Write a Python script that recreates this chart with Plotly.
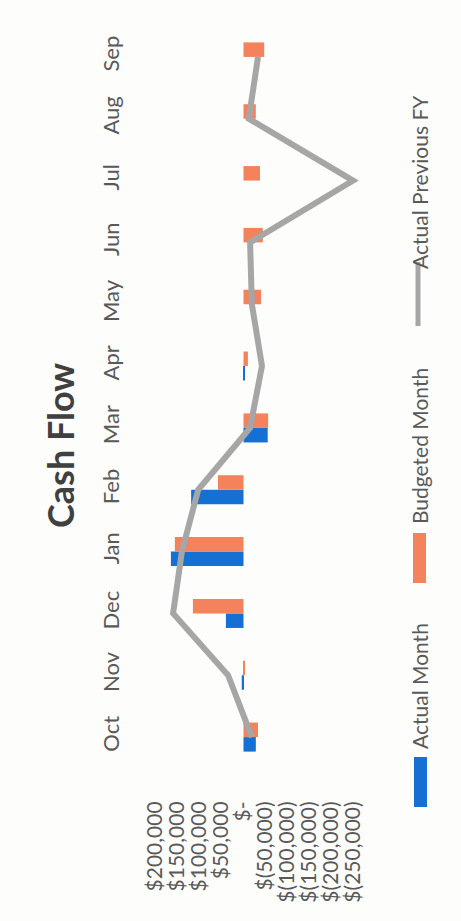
import plotly.graph_objects as go

# Monthly cash flow, fiscal year Oct–Sep
months = ["Oct", "Nov", "Dec", "Jan", "Feb", "Mar", "Apr", "May", "Jun", "Jul", "Aug", "Sep"]
actual_month = [-28000, 4000, 40000, 165000, 119000, -55000, -3000, 0, 0, 0, 0, 0]
budgeted_month = [-33000, -2000, 115000, 156000, 58000, -56000, -10000, -40000, -44000, -37500, -28000, -47000]
actual_prev_fy = [-19000, 35000, 160000, 140000, 103000, -15000, -42000, -19000, -15000, -249000, -12000, -33000]

tick_vals = [200000, 150000, 100000, 50000, 0, -50000, -100000, -150000, -200000, -250000]
tick_text = ["$200,000", "$150,000", "$100,000", "$50,000", "$-", "$(50,000)",
             "$(100,000)", "$(150,000)", "$(200,000)", "$(250,000)"]

BLUE = "#166fd2"
ORANGE = "#f4825c"
GREY = "#a6a6a6"
TEXT = "#595959"
FONT = "Lato"

W, H = 461, 921
PL, PR, PT, PB = 149, 360, 26, 768


def px(x):
    return (x - PL) / (PR - PL)


def py(y):
    return (PB - y) / (PB - PT)


fig = go.Figure()
fig.add_trace(go.Bar(x=actual_month, y=months, orientation="h", name="Actual Month",
                     marker=dict(color=BLUE, line=dict(width=0))))
fig.add_trace(go.Bar(x=budgeted_month, y=months, orientation="h", name="Budgeted Month",
                     marker=dict(color=ORANGE, line=dict(width=0))))
fig.add_trace(go.Scatter(x=actual_prev_fy, y=months, mode="lines", name="Actual Previous FY",
                         line=dict(color=GREY, width=6)))

fig.update_layout(
    width=W, height=H,
    margin=dict(l=PL, r=W - PR, t=PT, b=H - PB, pad=0),
    paper_bgcolor="#fdfdfb", plot_bgcolor="rgba(0,0,0,0)",
    barmode="group", bargap=0.53, bargroupgap=0,
    showlegend=False,
    font=dict(family=FONT, color=TEXT),
    xaxis=dict(range=[214800, -264800], tickvals=tick_vals, ticktext=tick_text,
               tickangle=-90, showgrid=False, zeroline=False, showline=False,
               ticks="outside", ticklen=24, tickcolor="rgba(0,0,0,0)",
               tickfont=dict(size=21, color=TEXT, family=FONT)),
    yaxis=dict(type="category", categoryorder="array", categoryarray=months,
               range=[-0.5, 11.5], tickangle=-90, showgrid=False, zeroline=False,
               showline=False, ticks="outside", ticklen=20, tickcolor="rgba(0,0,0,0)",
               tickfont=dict(size=22, color=TEXT, family=FONT)),
)

# Title
fig.add_annotation(x=px(60), y=py(446), xref="paper", yref="paper", text="<b>Cash Flow</b>",
                   textangle=-90, showarrow=False, xanchor="center", yanchor="middle",
                   font=dict(size=36, color="#404040", family=FONT))

# Legend drawn vertically along the right side
legend_text = dict(textangle=-90, showarrow=False, xanchor="center", yanchor="middle",
                   xref="paper", yref="paper", font=dict(size=21, color=TEXT, family=FONT))
fig.add_shape(type="rect", xref="paper", yref="paper", x0=px(414), x1=px(427), y0=py(807), y1=py(757),
              fillcolor=BLUE, line=dict(width=0))
fig.add_annotation(x=px(419), y=py(686), text="Actual Month", **legend_text)
fig.add_shape(type="rect", xref="paper", yref="paper", x0=px(413), x1=px(426), y0=py(583), y1=py(533),
              fillcolor=ORANGE, line=dict(width=0))
fig.add_annotation(x=px(419), y=py(446), text="Budgeted Month", **legend_text)
fig.add_shape(type="line", xref="paper", yref="paper", x0=px(418), x1=px(418), y0=py(326), y1=py(262),
              line=dict(color=GREY, width=5))
fig.add_annotation(x=px(419), y=py(182), text="Actual Previous FY", **legend_text)

fig.write_html("out.html", config={"responsive": False, "displayModeBar": False})
